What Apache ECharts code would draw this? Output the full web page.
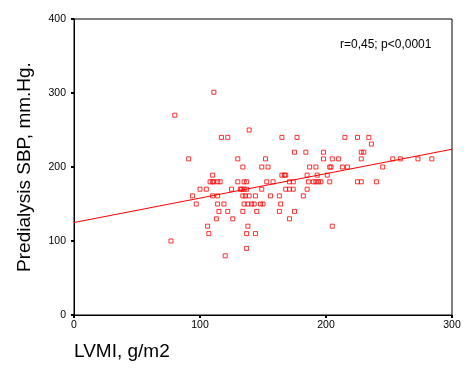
<!DOCTYPE html>
<html><head><meta charset="utf-8">
<script src="https://cdn.jsdelivr.net/npm/echarts@6/dist/echarts.min.js"></script>
<style>html,body{margin:0;padding:0;background:#fff}#c{width:472px;height:377px}</style>
</head><body><div id="c"></div>
<script>
// LVMI (g/m2) values
var lvmi = [77,80,91,94,97,100,105,106,107,108,110,110,110,111,111,113,114,114,114,115,116,117,119,120,122,122,125,126,130,130,132,133,134,134,134,135,135,135,136,137,137,137,137,138,138,139,139,141,143,144,144,145,148,149,149,150,152,153,154,156,158,163,163,164,165,165,167,168,168,171,171,171,174,174,175,175,177,182,184,185,185,186,187,190,192,192,193,194,196,198,198,201,203,203,204,205,205,210,213,215,217,225,225,228,228,228,230,234,236,240,245,253,259,273,284];
// Predialysis SBP (mm.Hg.) values
var sbp  = [100,270,211,161,150,170,170,120,110,180,189,161,180,301,180,130,180,161,150,140,180,240,150,80,240,140,170,130,211,180,170,170,200,161,140,180,150,170,161,180,170,110,90,150,120,161,250,150,150,161,110,140,150,200,170,150,211,180,200,161,180,140,161,150,240,189,189,170,189,180,170,130,180,170,220,140,240,161,220,189,170,180,200,180,200,180,189,180,180,220,211,189,200,180,200,211,120,211,200,240,200,240,180,211,220,180,220,240,231,180,200,211,211,211,211];
// Regression line end points
var lineX = [0, 300];
var lineY = [125, 224];
var xTicks = [0, 100, 200, 300];
var yTicks = [0, 100, 200, 300, 400];
var annotation = 'r=0,45; p<0,0001';

var pts = lvmi.map(function(x, i){ return [x, sbp[i]]; });
var linePts = lineX.map(function(x, i){ return [x, lineY[i]]; });

var chart = echarts.init(document.getElementById('c'), null, {renderer:'canvas'});
var font = 'Liberation Sans, Arial, sans-serif';
chart.setOption({
  animation: false,
  backgroundColor: '#fff',
  grid: {left: 74, right: 20, top: 19, bottom: 62, show: true, borderColor: '#000', borderWidth: 1},
  xAxis: {
    type: 'value', min: xTicks[0], max: xTicks[xTicks.length-1], interval: 100,
    name: 'LVMI, g/m2', nameLocation: 'start', nameGap: 0,
    nameTextStyle: {fontFamily: font, fontSize: 19, color: '#000', align: 'left', verticalAlign: 'top', padding: [27, 0, 0, 0]},
    axisLine: {lineStyle: {color: '#000', width: 1}},
    axisTick: {length: 3, lineStyle: {color: '#000', width: 2}},
    axisLabel: {fontFamily: font, fontSize: 10.5, color: '#000', margin: 5},
    splitLine: {show: false}
  },
  yAxis: {
    type: 'value', min: yTicks[0], max: yTicks[yTicks.length-1], interval: 100,
    name: 'Predialysis SBP, mm.Hg.', nameLocation: 'middle', nameGap: 40, nameRotate: 90,
    nameTextStyle: {fontFamily: font, fontSize: 19, color: '#000'},
    axisLine: {lineStyle: {color: '#000', width: 1}},
    axisTick: {length: 3, lineStyle: {color: '#000', width: 2}},
    axisLabel: {fontFamily: font, fontSize: 10.5, color: '#000', margin: 8},
    splitLine: {show: false}
  },
  graphic: [{
    type: 'text', left: 340, top: 39,
    style: {text: annotation, fontFamily: font, fontSize: 12, fill: '#000'}
  }],
  series: [
    {
      type: 'line', data: linePts, showSymbol: false, symbol: 'none',
      lineStyle: {color: '#ff0000', width: 1}, z: 1, silent: true
    },
    {
      type: 'scatter', data: pts, symbol: 'rect', symbolSize: 4,
      itemStyle: {color: 'transparent', borderColor: '#ff0000', borderWidth: 1}, z: 2
    }
  ]
});
</script></body></html>
